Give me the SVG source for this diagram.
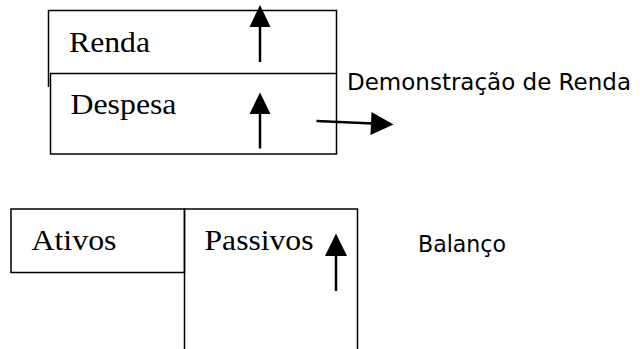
<svg xmlns="http://www.w3.org/2000/svg" width="640" height="349" viewBox="0 0 640 349">
<defs>
<style>
.box{fill:none;stroke:#000;stroke-width:1.5}
.ln{fill:none;stroke:#000;stroke-width:2.5}
.serif{font-family:"Liberation Serif","Times New Roman",serif;font-size:30px;fill:#000}
.sans{font-family:"DejaVu Sans",Tahoma,Verdana,sans-serif;font-size:22.5px;fill:#000}
</style>
</defs>
<rect width="640" height="349" fill="#fff"/>
<g id="renda">
<polyline class="box" points="48.5,87 48.5,10.5 336.5,10.5 336.5,73.5"/>
<text class="serif" x="69" y="52" textLength="81" lengthAdjust="spacingAndGlyphs">Renda</text>
</g>
<g id="despesa">
<rect class="box" x="50.5" y="73.5" width="286" height="80.5"/>
<text class="serif" x="70.5" y="113.5" textLength="106" lengthAdjust="spacingAndGlyphs">Despesa</text>
</g>
<g id="demonstracao">
<text class="sans" x="347" y="89.5" textLength="284" lengthAdjust="spacingAndGlyphs">Demonstração de Renda</text>
</g>
<g id="ativos">
<rect class="box" x="11" y="209" width="173.5" height="63.5"/>
<text class="serif" x="31.5" y="249.5" textLength="85" lengthAdjust="spacingAndGlyphs">Ativos</text>
</g>
<g id="passivos">
<polyline class="box" points="184.5,349 184.5,209 357.5,209 357.5,349"/>
<text class="serif" x="204.5" y="249.5" textLength="109" lengthAdjust="spacingAndGlyphs">Passivos</text>
</g>
<g id="balanco">
<text class="sans" x="418" y="252" textLength="88" lengthAdjust="spacingAndGlyphs">Balanço</text>
</g>
<g id="connectors">
<line class="ln" x1="260" y1="62" x2="260" y2="26"/>
<polygon points="260,5 249.5,27 270.5,27"/>
<line class="ln" x1="260" y1="148.5" x2="260" y2="112"/>
<polygon points="260,92.5 249.5,114 270.5,114"/>
<line class="ln" x1="316.5" y1="121" x2="373" y2="123.5"/>
<polygon points="393.5,124.5 371.5,112 370.5,135"/>
<line class="ln" x1="336" y1="291" x2="336" y2="254"/>
<polygon points="336,233.5 325,256 347,256"/>
</g>
</svg>
